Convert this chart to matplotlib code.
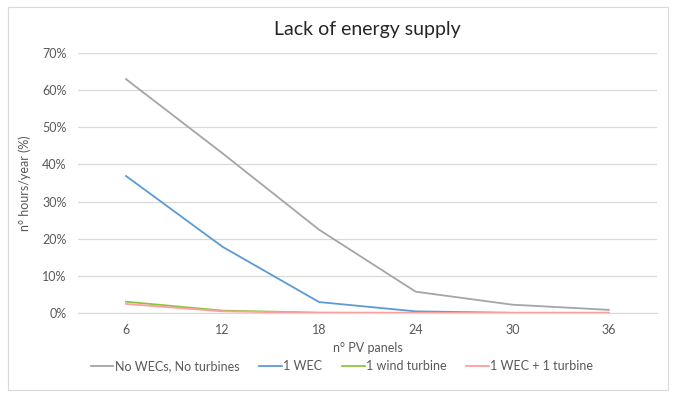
import numpy as np
import matplotlib.pyplot as plt
from matplotlib.patches import Rectangle
from matplotlib.ticker import PercentFormatter

pv_panels = ["6", "12", "18", "24", "30", "36"]
no_wec = [63.0, 43.0, 22.4, 5.7, 2.2, 0.8]
one_wec = [36.9, 17.8, 2.9, 0.4, 0.0, 0.0]
one_wind = [3.0, 0.6, 0.05, 0.0, 0.0, 0.0]
wec_turbine = [2.4, 0.4, 0.0, 0.0, 0.0, 0.0]

series = [
    ("No WECs, No turbines", no_wec, "#A5A5A5"),
    ("1 WEC", one_wec, "#5B9BD5"),
    ("1 wind turbine", one_wind, "#8CC63F"),
    ("1 WEC + 1 turbine", wec_turbine, "#FF9E9E"),
]

plt.rcParams['font.family'] = ['Lato', 'DejaVu Sans']

fig = plt.figure(figsize=(6.76, 3.97), dpi=100)
ax = fig.add_axes([0.115, 0.212, 0.857, 0.654])

x = np.arange(len(pv_panels))
for name, vals, col in series:
    ax.plot(x, vals, color=col, lw=1.3, label=name)

ax.set_xlim(-0.5, len(pv_panels) - 0.5)
ax.set_ylim(0, 70)
ax.set_yticks(np.arange(0, 71, 10))
ax.yaxis.set_major_formatter(PercentFormatter(decimals=0))
ax.set_xticks(x)
ax.set_xticklabels(pv_panels)
ax.grid(axis='y', color='#D9D9D9', lw=0.9)
ax.set_axisbelow(True)
for s in ['top', 'right', 'left']:
    ax.spines[s].set_visible(False)
ax.spines['bottom'].set_color('#D9D9D9')
ax.tick_params(length=0, labelsize=9, colors='#595959', pad=8)

ax.set_xlabel("n° PV panels", fontsize=9, color='#595959', labelpad=4)
ax.set_ylabel("n° hours/year (%)", fontsize=9, color='#595959', labelpad=8)
ax.set_title("Lack of energy supply", fontsize=14, color='#262626', pad=13)

fig.legend(*ax.get_legend_handles_labels(), loc='center', bbox_to_anchor=(0.506, 0.078),
           ncol=4, frameon=False, fontsize=9, labelcolor='#595959',
           handlelength=1.8, handletextpad=0.1, columnspacing=1.6)

fig.patches.append(Rectangle((0.012, 0.018), 0.976, 0.964, transform=fig.transFigure,
                             fill=False, edgecolor='#D9D9D9', lw=0.8))

fig.savefig("out.png", dpi=100)
